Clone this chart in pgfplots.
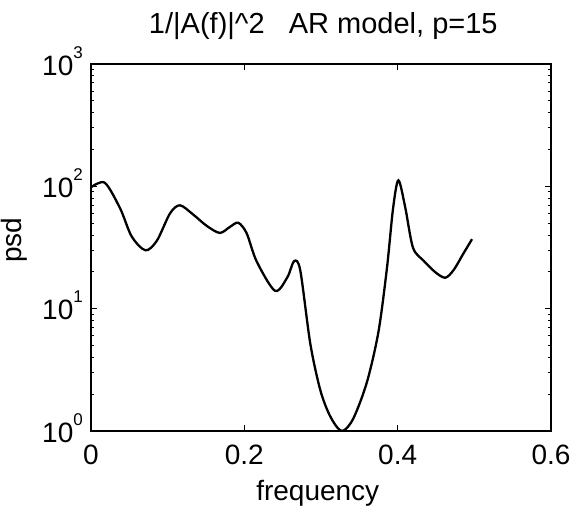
\documentclass[border=0pt]{standalone}
\usepackage{pgfplots}
\pgfplotsset{compat=1.18}
\usepackage{graphicx}
\usepackage{fontspec}
\setmainfont{Liberation Sans}
\newcommand{\tp}[1]{10\raisebox{17bp}{\fontsize{17bp}{18bp}\selectfont #1}}
\begin{document}
\fontsize{28bp}{32bp}\selectfont
\begin{tikzpicture}
\begin{axis}[
  scale only axis, width=460bp, height=367bp,
  ymode=log, xmin=0, xmax=0.6, ymin=1, ymax=1000,
  xtick={0,0.2,0.4,0.6}, xticklabels={0,0.2,0.4,0.6},
  ytick={1,10,100,1000}, yticklabels={\tp{0},\tp{1},\tp{2},\tp{3}},
  minor ytick={2,3,4,5,6,7,8,9,20,30,40,50,60,70,80,90,200,300,400,500,600,700,800,900},
  tick align=inside, major tick length=6bp, minor tick length=3bp,
  axis line style={line width=1.8bp},
  every tick/.style={black, line width=1bp},
  tick label style={font=\fontsize{28bp}{32bp}\selectfont},
  yticklabel style={anchor=east, inner sep=2bp, xshift=-6bp, yshift=3bp},
  xticklabel style={anchor=north, inner sep=2bp, yshift=-12bp},
  title={1/|A(f)|\textasciicircum 2\ \ \ AR model, p=15},
  title style={at={(axis description cs:0.505,1.068)}, anchor=base, font=\fontsize{29bp}{33bp}\selectfont},
  xlabel={frequency},
  xlabel style={at={(axis description cs:0.493,-0.17)}, anchor=center, font=\fontsize{28bp}{32bp}\selectfont},
  ylabel={\rotatebox{90}{psd}},
  every axis y label/.style={at={(axis description cs:-0.167,0.52)}, anchor=center, font=\fontsize{28bp}{32bp}\selectfont},
]
\addplot[black, line width=2.3bp, smooth, tension=0.5] coordinates {
(0,98) (0.018,107) (0.038,66) (0.053,39) (0.071,30) (0.086,36)
(0.103,60) (0.116,70) (0.133,59) (0.151,47.5) (0.168,41.6) (0.181,46.5)
(0.192,50.4) (0.203,41.4) (0.216,24.4) (0.240,14) (0.256,18) (0.265,24.5)
(0.273,20.5) (0.286,5.2) (0.299,2.17) (0.312,1.32) (0.327,1.0) (0.342,1.26)
(0.360,2.52) (0.375,6.5) (0.386,21.4) (0.394,66) (0.401,112) (0.410,66.7)
(0.420,31.5) (0.434,24.6) (0.449,19.9) (0.462,17.9) (0.473,20.7) (0.486,28.4)
(0.497,37)
};
\end{axis}
\pgfresetboundingbox
\path[use as bounding box] (current axis.south west) ++(-91bp,-77bp) rectangle ++(571bp,508bp);
\end{tikzpicture}
\end{document}
